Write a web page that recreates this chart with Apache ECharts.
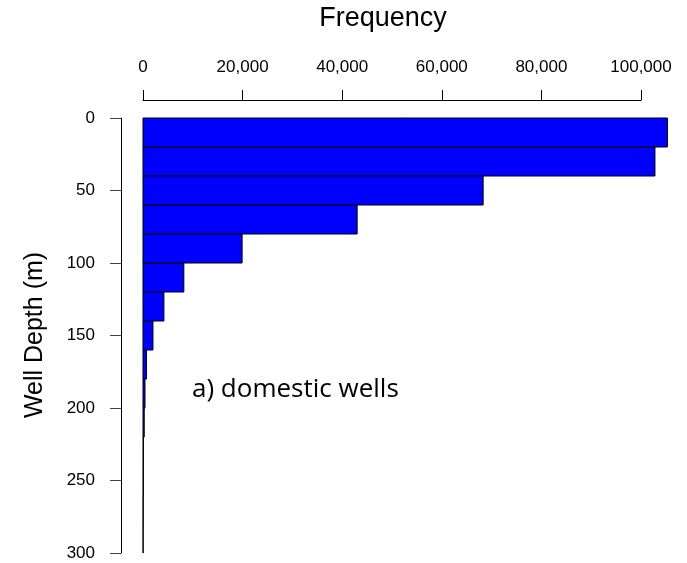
<!DOCTYPE html>
<html>
<head>
<meta charset="utf-8">
<script src="https://cdn.jsdelivr.net/npm/echarts@6/dist/echarts.min.js"></script>
<style>html,body{margin:0;padding:0;background:#fff;}#c{width:687px;height:563px;}</style>
</head>
<body>
<div id="c"></div>
<script>
const binStarts = [0, 20, 40, 60, 80, 100, 120, 140, 160, 180, 200, 220, 240, 260, 280];
const binWidth = 20;
const frequencies = [105300, 102800, 68300, 43000, 19900, 8200, 4200, 2000, 700, 400, 250, 100, 80, 50, 30];
const xTicks = [0, 20000, 40000, 60000, 80000, 100000];
const yTicks = [0, 50, 100, 150, 200, 250, 300];

const data = binStarts.map((s, i) => [s, s + binWidth, frequencies[i]]);
const chart = echarts.init(document.getElementById('c'), null, {renderer: 'canvas'});
const font = 'Liberation Sans, Arial, Helvetica, sans-serif';
chart.setOption({
  animation: false,
  backgroundColor: '#fff',
  grid: {left: 143, top: 118, width: 498, height: 435},
  graphic: [{
    type: 'text', x: 383, y: 5,
    style: {text: 'Frequency', font: '27px Liberation Sans, Arial, sans-serif', fill: '#000', align: 'center', verticalAlign: 'top'}
  }, {
    type: 'text', x: 192, y: 377,
    style: {text: 'a) domestic wells', font: '26px "Open Sans", Lato, sans-serif', fill: '#000'}
  }, {
    type: 'text', x: 35, y: 335, rotation: Math.PI / 2,
    style: {text: 'Well Depth (m)', font: '25px Liberation Sans, Arial, sans-serif', fill: '#000', align: 'center', verticalAlign: 'middle'}
  }],
  xAxis: {
    type: 'value', position: 'top', min: 0, max: 100000, interval: 20000, offset: 18,
    axisLine: {show: true, onZero: false, lineStyle: {color: '#000', width: 1}},
    axisTick: {show: true, length: 10, lineStyle: {color: '#000'}},
    splitLine: {show: false},
    axisLabel: {margin: 24, fontFamily: font, fontSize: 17, color: '#000',
      formatter: v => xTicks.includes(v) ? v.toLocaleString('en-US') : ''}
  },
  yAxis: {
    type: 'value', inverse: true, min: 0, max: 300, interval: 50, offset: 22,
    axisLine: {show: true, onZero: false, lineStyle: {color: '#000', width: 1}},
    axisTick: {show: true, length: 11, lineStyle: {color: '#444'}},
    splitLine: {show: false},
    axisLabel: {margin: 26, fontFamily: font, fontSize: 17, color: '#000',
      formatter: v => yTicks.includes(v) ? String(v) : ''}
  },
  series: [{
    type: 'custom', clip: false,
    renderItem: function (params, api) {
      const p0 = api.coord([0, api.value(0)]);
      const p1 = api.coord([api.value(2), api.value(1)]);
      return {
        type: 'rect',
        shape: {x: p0[0], y: p0[1], width: p1[0] - p0[0], height: p1[1] - p0[1]},
        style: {fill: '#0000ff', stroke: '#000', lineWidth: 1}
      };
    },
    encode: {x: 2, y: [0, 1]},
    data: data
  }]
});
</script>
</body>
</html>
